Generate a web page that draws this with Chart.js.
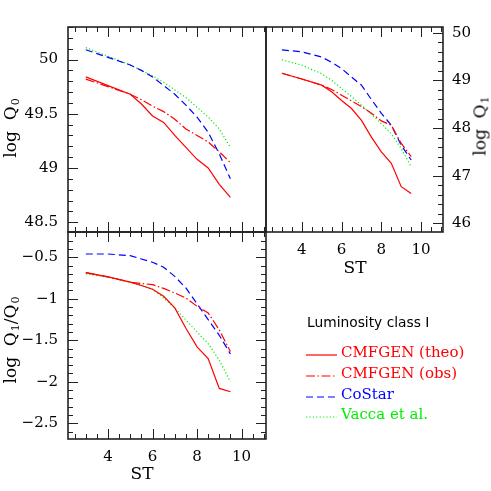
<!DOCTYPE html>
<html>
<head>
<meta charset="utf-8">
<script src="https://cdn.jsdelivr.net/npm/chart.js@4.4.1/dist/chart.umd.min.js"></script>
<style>
  html, body { margin: 0; padding: 0; background: #fff; }
  #wrap { position: relative; width: 491px; height: 491px; overflow: hidden; font-family: "DejaVu Serif", serif; }
  #wrap canvas { position: absolute; left: 0; top: 0; }
  .ytitle { position: absolute; font-size: 17px; line-height: 1; white-space: nowrap; transform: translate(-50%, -50%) rotate(-90deg); }
  .xtitle { position: absolute; font-size: 17px; line-height: 1; white-space: nowrap; transform: translate(-50%, -50%); }
  .ytitle sub { font-size: 11px; vertical-align: -3px; margin-left: 1px; }
  .lg { position: absolute; line-height: 1; white-space: nowrap; transform: translateY(-50%); }
  .tk { position: absolute; background: #222; }
</style>
</head>
<body>
<div id="wrap">
  <canvas id="panelQ0" width="491" height="491"></canvas>
  <canvas id="panelQ1" width="491" height="491"></canvas>
  <canvas id="panelRatio" width="491" height="491"></canvas>
  <div class="ytitle" style="left:11px;top:128px">log&nbsp; Q<sub>0</sub></div>
  <div class="ytitle" style="left:481px;top:126px">log&nbsp; Q<sub>1</sub></div>
  <div class="ytitle" style="left:11px;top:340px">log&nbsp; Q<sub>1</sub>/Q<sub>0</sub></div>
  <div class="xtitle" style="left:355px;top:267px">ST</div>
  <div class="xtitle" style="left:142px;top:473px">ST</div>
  <div id="legend"></div>
  <div id="tickLayer"></div>
</div>
<script>
// spectral type grid (O3 ... O9.5)
const spectralTypes = [3, 4, 5, 5.5, 6, 6.5, 7, 7.5, 8, 8.5, 9, 9.5];
const seriesNames = ['CMFGEN (theo)', 'CMFGEN (obs)', 'CoStar', 'Vacca et al.'];
const legendTitle = 'Luminosity class I';

// log Q0
const logQ0Theo   = [49.84, 49.76, 49.68, 49.59, 49.48, 49.42, 49.30, 49.19, 49.08, 49.00, 48.85, 48.73];
const logQ0Obs    = [49.82, 49.75, 49.68, 49.63, 49.57, 49.52, 49.45, 49.36, 49.30, 49.24, 49.15, 49.05];
const logQ0CoStar = [50.09, 50.02, 49.95, 49.90, 49.84, 49.76, 49.68, 49.58, 49.47, 49.33, 49.13, 48.90];
const logQ0Vacca  = [50.11, 50.03, 49.95, 49.90, 49.85, 49.79, 49.72, 49.65, 49.56, 49.47, 49.36, 49.19];

// log Q1
const logQ1Theo   = [49.15, 49.03, 48.90, 48.76, 48.58, 48.41, 48.16, 47.81, 47.50, 47.26, 46.77, 46.63];
const logQ1Obs    = [49.15, 49.03, 48.90, 48.81, 48.69, 48.57, 48.45, 48.31, 48.15, 48.06, 47.68, 47.40];
const logQ1CoStar = [49.64, 49.60, 49.49, 49.38, 49.25, 49.07, 48.90, 48.60, 48.31, 48.06, 47.64, 47.33];
const logQ1Vacca  = [49.43, 49.32, 49.14, 49.00, 48.83, 48.66, 48.48, 48.29, 48.09, 47.88, 47.57, 47.19];

// log Q1/Q0
const ratioTheo   = [-0.685, -0.735, -0.80, -0.84, -0.885, -0.97, -1.11, -1.355, -1.58, -1.72, -2.08, -2.12];
const ratioObs    = [-0.685, -0.735, -0.80, -0.815, -0.83, -0.875, -0.93, -0.99, -1.09, -1.17, -1.375, -1.635];
const ratioCoStar = [-0.46, -0.46, -0.48, -0.52, -0.56, -0.62, -0.73, -0.87, -1.06, -1.25, -1.44, -1.665];
const ratioVacca  = [-0.70, -0.74, -0.80, -0.84, -0.885, -0.99, -1.11, -1.255, -1.40, -1.54, -1.74, -2.00];

// ticks
const stTicks = [4, 6, 8, 10];
const stTickLabels = ['4', '6', '8', '10'];
const q0Ticks = [48.5, 49, 49.5, 50];
const q0TickLabels = ['48.5', '49', '49.5', '50'];
const q1Ticks = [46, 47, 48, 49, 50];
const q1TickLabels = ['46', '47', '48', '49', '50'];
const ratioTicks = [-2.5, -2, -1.5, -1, -0.5];
const ratioTickLabels = ['\u22122.5', '\u22122', '\u22121.5', '\u22121', '\u22120.5'];

// line styles
const lineColors = ['#ff0000', '#ff0000', '#0000ff', '#00ee00'];
const lineDashes = [[], [9, 2.5, 1.5, 2.5], [7, 4], [1.2, 2.2]];
const tickFont = { family: 'DejaVu Serif', size: 15 };

function isMajor(v, step) {
  const r = v / step;
  return Math.abs(r - Math.round(r)) < 1e-6;
}

// list of inward tick marks {x, y, w, h} for one panel, from the chart's scales
function tickRects(chart, o) {
  const a = chart.chartArea;
  const xs = chart.scales.x, ys = chart.scales.y;
  const xPix = v => {
    const p = xs.getPixelForValue(v);
    return Number.isFinite(p) ? p : a.left + (v - o.xMin) / (o.xMax - o.xMin) * (a.right - a.left);
  };
  const yPix = v => {
    const p = ys.getPixelForValue(v);
    return Number.isFinite(p) ? p : a.bottom - (v - o.yMin) / (o.yMax - o.yMin) * (a.bottom - a.top);
  };
  const out = [];
  const x0 = Math.ceil(o.xMin / o.xMinor - 1e-6), x1 = Math.floor(o.xMax / o.xMinor + 1e-6);
  for (let i = x0; i <= x1; i++) {
    const v = i * o.xMinor;
    const px = Math.round(xPix(v));
    const len = isMajor(v, o.xMajor) ? 10 : 5;
    if (o.top) out.push({ x: px, y: a.top, w: 1, h: len });
    if (o.bottom) out.push({ x: px, y: a.bottom - len, w: 1, h: len });
  }
  const y0 = Math.ceil(o.yMin / o.yMinor - 1e-6), y1 = Math.floor(o.yMax / o.yMinor + 1e-6);
  for (let i = y0; i <= y1; i++) {
    const v = i * o.yMinor;
    const py = Math.round(yPix(v));
    const len = isMajor(v, o.yMajor) ? 10 : 5;
    if (o.left) out.push({ x: a.left, y: py, w: len, h: 1 });
    if (o.right) out.push({ x: a.right - len, y: py, w: len, h: 1 });
  }
  return out;
}

function framePlugin(panelId, o) {
  return {
    id: 'frame_' + panelId,
    afterDraw(chart) {
      const ctx = chart.ctx;
      const a = chart.chartArea;
      ctx.save();
      ctx.fillStyle = '#222';
      tickRects(chart, o).forEach(r => ctx.fillRect(r.x, r.y, r.w, r.h));
      ctx.strokeStyle = '#222';
      ctx.lineWidth = 1.6;
      ctx.strokeRect(a.left, a.top, a.right - a.left, a.bottom - a.top);
      ctx.restore();
    }
  };
}

function buildDatasets(seriesList) {
  return seriesList.map((vals, i) => ({
    label: seriesNames[i],
    data: spectralTypes.map((st, j) => ({ x: st, y: vals[j] })),
    borderColor: lineColors[i],
    borderDash: lineDashes[i],
    borderWidth: 1.2,
    pointRadius: 0
  }));
}

function makePanel(id, p) {
  const frame = Object.assign({ xMin: 2.2, xMax: 11.1, yMin: p.yMin, yMax: p.yMax }, p.frame);
  const chart = new Chart(document.getElementById(id), {
    type: 'line',
    data: { datasets: buildDatasets(p.series) },
    options: {
      responsive: false,
      animation: false,
      devicePixelRatio: 1,
      layout: { padding: p.padding },
      plugins: { legend: { display: false }, tooltip: { enabled: false } },
      scales: {
        x: {
          type: 'linear', position: 'bottom', min: 2.2, max: 11.1, display: p.showX,
          grid: { display: false, drawTicks: false }, border: { display: false },
          afterBuildTicks: s => { s.ticks = stTicks.map(v => ({ value: v })); },
          afterFit: s => { s.height = p.showX ? 30 : 0; },
          ticks: {
            autoSkip: false, maxRotation: 0, padding: 9, color: '#000', font: tickFont,
            callback: v => stTickLabels[stTicks.indexOf(v)]
          }
        },
        y: {
          type: 'linear', position: p.yPos, min: p.yMin, max: p.yMax,
          grid: { display: false, drawTicks: false }, border: { display: false },
          afterBuildTicks: s => { s.ticks = p.yTicks.map(v => ({ value: v })); },
          afterFit: s => { s.width = p.yWidth; },
          ticks: {
            autoSkip: false, padding: p.yPad, color: '#000', font: tickFont,
            callback: v => p.yLabels[p.yTicks.indexOf(v)]
          }
        }
      }
    },
    plugins: [framePlugin(id, frame)]
  });

  // same tick marks also laid over the canvas as html, taken from the chart's scales
  const layer = document.getElementById('tickLayer');
  tickRects(chart, frame).forEach(r => {
    const d = document.createElement('div');
    d.className = 'tk';
    d.style.left = r.x + 'px';
    d.style.top = r.y + 'px';
    d.style.width = r.w + 'px';
    d.style.height = r.h + 'px';
    layer.appendChild(d);
  });
  return chart;
}

makePanel('panelQ0', {
  series: [logQ0Theo, logQ0Obs, logQ0CoStar, logQ0Vacca],
  padding: { left: 0, top: 27, right: 225, bottom: 259 },
  showX: false, yPos: 'left', yWidth: 68, yPad: 10,
  yMin: 48.41, yMax: 50.30, yTicks: q0Ticks, yLabels: q0TickLabels,
  frame: { xMinor: 0.5, xMajor: 2, yMinor: 0.1, yMajor: 0.5, top: true, bottom: true, left: true, right: false }
});

makePanel('panelQ1', {
  series: [logQ1Theo, logQ1Obs, logQ1CoStar, logQ1Vacca],
  padding: { left: 266, top: 27, right: 0, bottom: 229 },
  showX: true, yPos: 'right', yWidth: 48, yPad: 9,
  yMin: 45.82, yMax: 50.12, yTicks: q1Ticks, yLabels: q1TickLabels,
  frame: { xMinor: 0.5, xMajor: 2, yMinor: 0.2, yMajor: 1, top: true, bottom: true, left: false, right: true }
});

makePanel('panelRatio', {
  series: [ratioTheo, ratioObs, ratioCoStar, ratioVacca],
  padding: { left: 0, top: 232, right: 225, bottom: 22 },
  showX: true, yPos: 'left', yWidth: 68, yPad: 10,
  yMin: -2.69, yMax: -0.195, yTicks: ratioTicks, yLabels: ratioTickLabels,
  frame: { xMinor: 0.5, xMajor: 2, yMinor: 0.1, yMajor: 0.5, top: true, bottom: true, left: true, right: true }
});

// legend (html text + small line samples)
const legendBox = document.getElementById('legend');
const titleEl = document.createElement('div');
titleEl.className = 'lg';
titleEl.style.cssText = 'left:307px;top:322px;font:13.8px "DejaVu Sans";color:#000';
titleEl.textContent = legendTitle;
legendBox.appendChild(titleEl);

const rowY = [352, 373, 394, 414];
seriesNames.forEach((name, i) => {
  const svgNS = 'http://www.w3.org/2000/svg';
  const svg = document.createElementNS(svgNS, 'svg');
  svg.setAttribute('width', '31');
  svg.setAttribute('height', '6');
  svg.style.cssText = 'position:absolute;left:306px;top:' + rowY[i] + 'px';
  const ln = document.createElementNS(svgNS, 'line');
  ln.setAttribute('x1', '0'); ln.setAttribute('x2', '31');
  ln.setAttribute('y1', '3'); ln.setAttribute('y2', '3');
  ln.setAttribute('stroke', lineColors[i]);
  ln.setAttribute('stroke-width', '1.2');
  if (lineDashes[i].length) ln.setAttribute('stroke-dasharray', lineDashes[i].join(' '));
  svg.appendChild(ln);
  legendBox.appendChild(svg);

  const t = document.createElement('div');
  t.className = 'lg';
  t.style.cssText = 'left:341px;top:' + rowY[i] + 'px;font:15px "DejaVu Serif";color:' + lineColors[i];
  t.textContent = name;
  legendBox.appendChild(t);
});
</script>
</body>
</html>
